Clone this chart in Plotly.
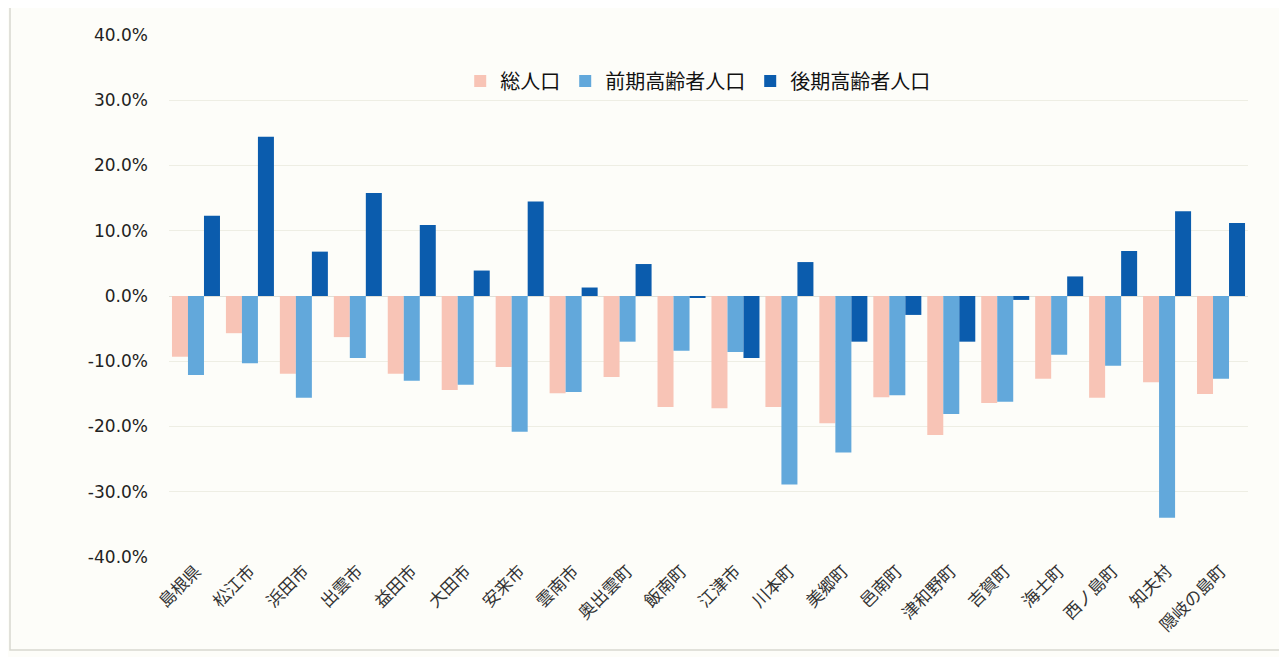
import plotly.graph_objects as go

categories = ["島根県", "松江市", "浜田市", "出雲市", "益田市", "大田市", "安来市", "雲南市",
              "奥出雲町", "飯南町", "江津市", "川本町", "美郷町", "邑南町", "津和野町", "吉賀町",
              "海士町", "西ノ島町", "知夫村", "隠岐の島町"]
total_pop = [-9.3, -5.7, -11.9, -6.3, -11.9, -14.4, -10.9, -14.9, -12.4, -17.0,
             -17.2, -17.0, -19.5, -15.5, -21.3, -16.4, -12.7, -15.6, -13.2, -15.0]
early_elderly = [-12.1, -10.3, -15.6, -9.5, -13.0, -13.6, -20.8, -14.7, -7.0, -8.4,
                 -8.6, -28.9, -24.0, -15.2, -18.1, -16.2, -9.0, -10.7, -34.0, -12.7]
late_elderly = [12.3, 24.4, 6.8, 15.8, 10.9, 3.9, 14.5, 1.3, 4.9, -0.3,
                -9.5, 5.2, -7.0, -2.9, -7.0, -0.6, 3.0, 6.9, 13.0, 11.2]
series_names = ["総人口", "前期高齢者人口", "後期高齢者人口"]
tick_vals = [-40, -30, -20, -10, 0, 10, 20, 30, 40]
tick_text = ["-40.0%", "-30.0%", "-20.0%", "-10.0%", "0.0%", "10.0%", "20.0%", "30.0%", "40.0%"]

colors = ["#F8C4B6", "#62A8DB", "#0B5CAD"]
fig = go.Figure()
for name, vals, c in zip(series_names, [total_pop, early_elderly, late_elderly], colors):
    fig.add_trace(go.Bar(x=categories, y=vals, name=name, marker=dict(color=c, line=dict(width=0))))

W, H = 1287, 657
off = 8  # page body margin
ml, mr, mt, mb = 169 - off, 39 + off, 35 - off, 100 + off
pw, ph = W - ml - mr, H - mt - mb
fig.update_layout(
    width=W, height=H,
    margin=dict(l=ml, r=mr, t=mt, b=mb),
    paper_bgcolor="#FDFDF9", plot_bgcolor="#FDFDF9",
    barmode="group", bargap=0.11, bargroupgap=0,
    font=dict(family="Noto Sans CJK JP, Noto Sans", color="#222"),
    legend=dict(orientation="h", x=0.49, xanchor="center", y=(H - mb - 73) / ph, yanchor="middle",
                font=dict(size=20, color="#111", family="Noto Sans CJK JP"), bgcolor="rgba(0,0,0,0)",
                itemwidth=30, traceorder="normal"),
    xaxis=dict(tickangle=-45, tickfont=dict(size=17, color="#333", family="Noto Sans CJK JP"),
               showgrid=False, zeroline=False, showline=False, ticks=""),
    yaxis=dict(range=[-40, 40], tickvals=tick_vals, ticktext=tick_text,
               tickfont=dict(size=17, color="#222", family="DejaVu Sans"),
               showgrid=True, gridcolor="#EEEEE4", gridwidth=1,
               zeroline=True, zerolinecolor="#E0E0D8", zerolinewidth=1, ticklabelstandoff=20),
    shapes=[dict(type="rect", xref="paper", yref="paper",
                 x0=(2 - ml) / pw, x1=(1276 - ml) / pw, y0=(H - mb - 642) / ph, y1=(H - mb + 2) / ph,
                 line=dict(color="#D8D8D0", width=1.5), fillcolor="rgba(0,0,0,0)", layer="below")],
)
fig.write_html("out.html")
